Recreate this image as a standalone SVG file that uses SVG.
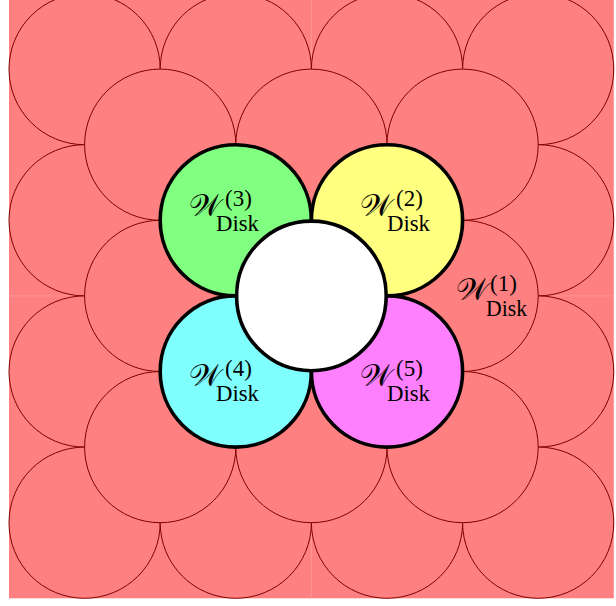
<svg xmlns="http://www.w3.org/2000/svg" width="616" height="606" viewBox="0 0 616 606">
<style>
.bg{fill:#ff8080}
.seam{stroke:#ff9a9a;stroke-width:0.8}
.rc{fill:#ff8080;stroke:#800000;stroke-width:1}
.kc{stroke:#000;stroke-width:3.6}
.w{font-family:"DejaVu Serif","DejaVu Sans","Noto Sans",serif;font-style:normal;font-size:31px;fill:#000}
.s{font-family:"Liberation Serif","DejaVu Serif",serif;font-size:23px;fill:#000}
</style>
<rect class="bg" x="9" y="-6.5" width="604.8" height="604.8"/>
<line class="seam" x1="9" y1="295.9" x2="613.8" y2="295.9"/>
<line class="seam" x1="311.4" y1="-6.5" x2="311.4" y2="598.3"/>
<g id="lattice-a">
<g id="a00"><circle class="rc" cx="84.6" cy="69.1" r="75.6"/></g>
<g id="a10"><circle class="rc" cx="235.8" cy="69.1" r="75.6"/></g>
<g id="a20"><circle class="rc" cx="387" cy="69.1" r="75.6"/></g>
<g id="a30"><circle class="rc" cx="538.2" cy="69.1" r="75.6"/></g>
<g id="a01"><circle class="rc" cx="84.6" cy="220.3" r="75.6"/></g>
<g id="a31"><circle class="rc" cx="538.2" cy="220.3" r="75.6"/></g>
<g id="a02"><circle class="rc" cx="84.6" cy="371.5" r="75.6"/></g>
<g id="a32"><circle class="rc" cx="538.2" cy="371.5" r="75.6"/></g>
<g id="a03"><circle class="rc" cx="84.6" cy="522.7" r="75.6"/></g>
<g id="a13"><circle class="rc" cx="235.8" cy="522.7" r="75.6"/></g>
<g id="a23"><circle class="rc" cx="387" cy="522.7" r="75.6"/></g>
<g id="a33"><circle class="rc" cx="538.2" cy="522.7" r="75.6"/></g>
</g>
<g id="lattice-b">
<g id="b00"><circle class="rc" cx="160.2" cy="144.7" r="75.6"/></g>
<g id="b10"><circle class="rc" cx="311.4" cy="144.7" r="75.6"/></g>
<g id="b20"><circle class="rc" cx="462.6" cy="144.7" r="75.6"/></g>
<g id="b01"><circle class="rc" cx="160.2" cy="295.9" r="75.6"/></g>
<g id="disk1"><circle class="rc" cx="462.6" cy="295.9" r="75.6"/>
<text class="w" x="456" y="300">𝒲</text><text class="s" x="490" y="291">(1)</text><text class="s" x="486" y="316" textLength="41" lengthAdjust="spacingAndGlyphs">Disk</text></g>
<g id="b02"><circle class="rc" cx="160.2" cy="447.1" r="75.6"/></g>
<g id="b12"><circle class="rc" cx="311.4" cy="447.1" r="75.6"/></g>
<g id="b22"><circle class="rc" cx="462.6" cy="447.1" r="75.6"/></g>
</g>
<g id="disk3"><circle class="kc" fill="#80ff80" cx="235.8" cy="220.3" r="75.6"/>
<text class="w" x="189" y="216">𝒲</text><text class="s" x="225" y="206">(3)</text><text class="s" x="216" y="231" textLength="43" lengthAdjust="spacingAndGlyphs">Disk</text></g>
<g id="disk2"><circle class="kc" fill="#ffff80" cx="387" cy="220.3" r="75.6"/>
<text class="w" x="360" y="216">𝒲</text><text class="s" x="396" y="206">(2)</text><text class="s" x="387" y="231" textLength="43" lengthAdjust="spacingAndGlyphs">Disk</text></g>
<g id="disk4"><circle class="kc" fill="#80ffff" cx="235.8" cy="371.5" r="75.6"/>
<text class="w" x="189" y="386">𝒲</text><text class="s" x="225" y="376">(4)</text><text class="s" x="216" y="401" textLength="43" lengthAdjust="spacingAndGlyphs">Disk</text></g>
<g id="disk5"><circle class="kc" fill="#ff80ff" cx="387" cy="371.5" r="75.6"/>
<text class="w" x="360" y="386">𝒲</text><text class="s" x="396" y="376">(5)</text><text class="s" x="387" y="401" textLength="43" lengthAdjust="spacingAndGlyphs">Disk</text></g>
<g id="hole"><circle class="kc" fill="#ffffff" cx="311.4" cy="295.9" r="74.8"/></g>
<g id="connectors"></g>
</svg>
